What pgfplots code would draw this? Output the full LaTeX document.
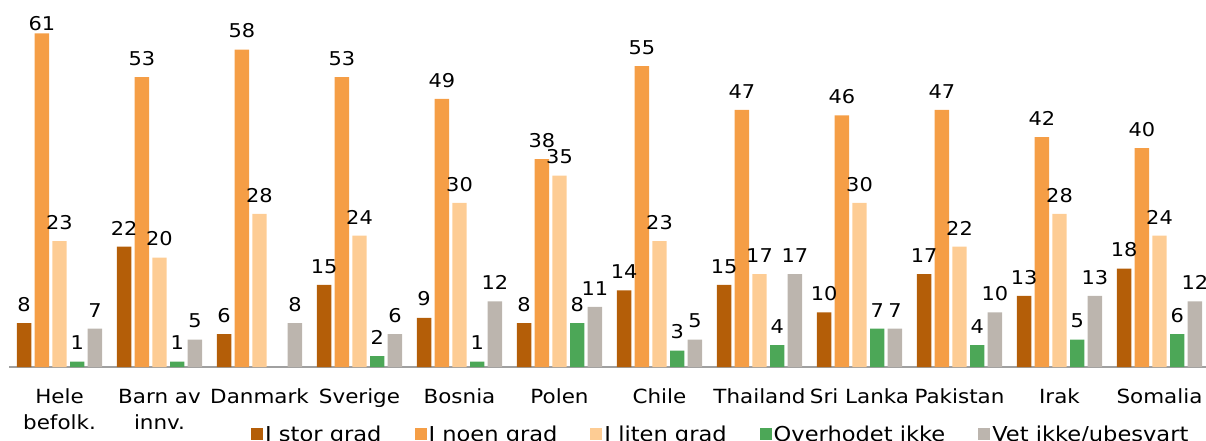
\documentclass[border=0pt]{standalone}
\usepackage{fontspec}
\setmainfont{DejaVu Sans}[FakeStretch=1.1]
\usepackage{pgfplots}
\pgfplotsset{compat=1.18}
\definecolor{cA}{RGB}{180,94,8}
\definecolor{cB}{RGB}{245,158,70}
\definecolor{cC}{RGB}{253,204,148}
\definecolor{cD}{RGB}{76,167,87}
\definecolor{cE}{RGB}{188,181,174}
\definecolor{axgray}{RGB}{160,160,160}
\begin{document}
\begin{tikzpicture}
\begin{axis}[
 at={(0pt,0pt)}, anchor=south west,
 scale only axis, width=1196.5pt, height=367pt,
 xmin=-0.5, xmax=11.465, ymin=0, ymax=67.09,
 ybar=3.3pt, bar width=14.4pt,
 axis x line*=bottom, axis y line=none,
 x axis line style={draw=axgray, line width=1.3pt, -},
 xtick={0,...,11},
 xticklabels={{Hele\\befolk.},{Barn av\\innv.},Danmark,Sverige,Bosnia,Polen,Chile,Thailand,Sri Lanka,Pakistan,Irak,Somalia},
 xtick style={draw=none},
 xticklabel style={font=\fontsize{19.5}{26}\selectfont, align=center, anchor=north, yshift=-14pt},
 ytick=\empty,
 /pgf/number format/assume math mode=true,
 nodes near coords,
 every node near coord/.append style={font=\fontsize{19}{19}\selectfont, black, yshift=8pt},
 clip=false,
 legend columns=5,
 legend style={at={(0.2018,-0.1831)}, anchor=west, draw=none, fill=none, inner sep=0pt,
   font=\fontsize{20.5}{23}\selectfont,
   /tikz/every even column/.append style={column sep=31pt}},
 legend image code/.code={\fill[#1] (0pt,-6pt) rectangle (12pt,6pt);},
]
\addplot[fill=cA, draw=none] coordinates {(0,8) (1,22) (2,6) (3,15) (4,9) (5,8) (6,14) (7,15) (8,10) (9,17) (10,13) (11,18)};
\addplot[fill=cB, draw=none, visualization depends on={rawy \as \rawy},
  every node near coord/.append style={yshift={(\rawy>60)*(-9pt)}}]
  coordinates {(0,61) (1,53) (2,58) (3,53) (4,49) (5,38) (6,55) (7,47) (8,46) (9,47) (10,42) (11,40)};
\addplot[fill=cC, draw=none] coordinates {(0,23) (1,20) (2,28) (3,24) (4,30) (5,35) (6,23) (7,17) (8,30) (9,22) (10,28) (11,24)};
\addplot[fill=cD, draw=none] coordinates {(0,1) (1,1) (3,2) (4,1) (5,8) (6,3) (7,4) (8,7) (9,4) (10,5) (11,6)};
\addplot[fill=cE, draw=none] coordinates {(0,7) (1,5) (2,8) (3,6) (4,12) (5,11) (6,5) (7,17) (8,7) (9,10) (10,13) (11,12)};
\legend{I stor grad, I noen grad, I liten grad, Overhodet ikke, Vet ikke/ubesvart}
\end{axis}
\pgfresetboundingbox
\path (-9.5pt,-74pt) rectangle (1196.5pt,367pt);
\end{tikzpicture}
\end{document}
